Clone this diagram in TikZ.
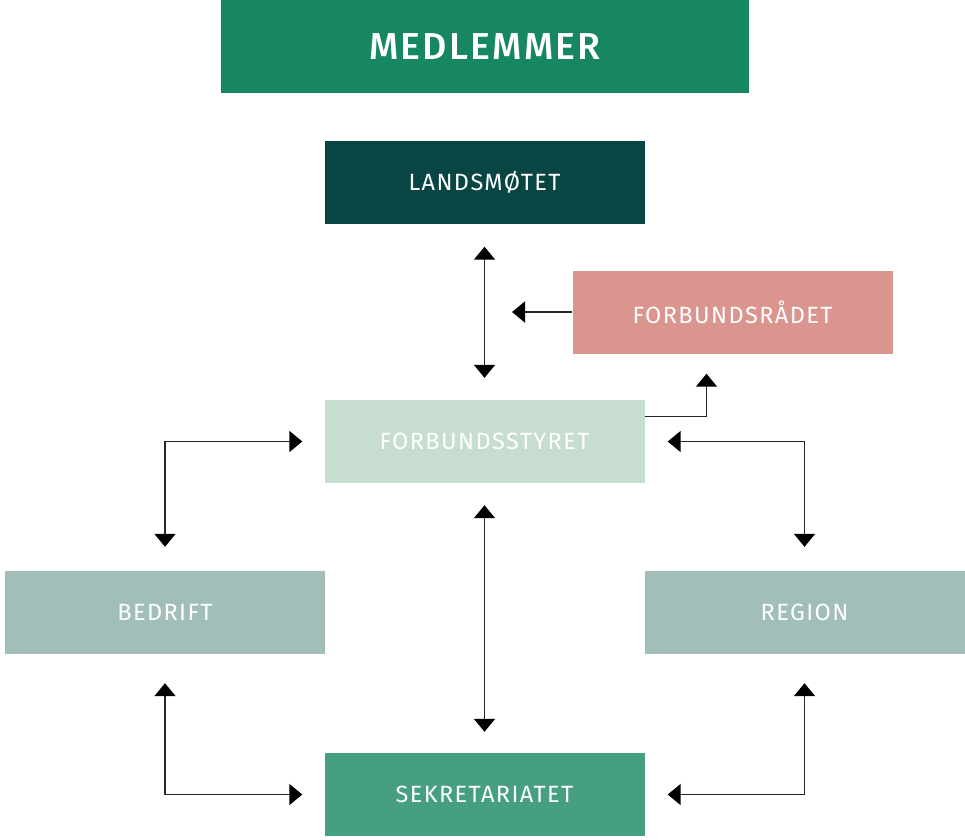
\documentclass[tikz,border=0pt]{standalone}
\usepackage{fontspec}
\setmainfont{Fira Sans}
\newfontfamily\boxfont[LetterSpace=6]{Fira Sans}
\newfontfamily\bigfont[LetterSpace=6]{Fira Sans Medium}
\usetikzlibrary{arrows.meta}
\definecolor{cMed}{HTML}{168762}
\definecolor{cLand}{HTML}{094543}
\definecolor{cRaad}{HTML}{DA958E}
\definecolor{cStyr}{HTML}{C6DDCF}
\definecolor{cBed}{HTML}{A2BEB8}
\definecolor{cSek}{HTML}{459F80}
\begin{document}
\begin{tikzpicture}[x=1pt,y=-1pt,
  box/.style={rectangle, inner sep=0pt, minimum width=320pt, minimum height=83pt,
    text=white, font=\boxfont\fontsize{23.5}{26}\selectfont},
  conn/.style={draw=black!85, line width=1.8pt,
    {Triangle[width=21pt,length=13pt,black]}-{Triangle[width=21pt,length=13pt,black]}},
  oneway/.style={draw=black!85, line width=1.8pt, -{Triangle[width=21pt,length=13pt,black]}}]
\useasboundingbox (0,0) rectangle (965,839);
\node[box, fill=cMed, minimum width=528pt, minimum height=93pt,
  font=\bigfont\fontsize{37.5}{42}\selectfont] (med) at (485,46.5) {MEDLEMMER};
\node[box, fill=cLand] (land) at (484.5,182) {LANDSMØTET};
\node[box, fill=cRaad] (raad) at (732.5,312) {FORBUNDSRÅDET};
\node[box, fill=cStyr] (styr) at (484.5,441.5) {FORBUNDSSTYRET};
\node[box, fill=cBed] (bed) at (165,612.5) {BEDRIFT};
\node[box, fill=cBed] (reg) at (804.5,612.5) {REGION};
\node[box, fill=cSek] (sek) at (484.5,794.5) {SEKRETARIATET};
\coordinate (rtip) at (512,312);
% connectors
\draw[conn] ([yshift=-23pt]land.south) -- ([yshift=22pt]styr.north);
\draw[oneway] (raad.west) -- (rtip);
\draw[oneway] ([yshift=25pt]styr.east) -| ([xshift=-26pt,yshift=-20pt]raad.south);
\draw[conn] ([xshift=-22pt]styr.west) -| ([yshift=24pt]bed.north);
\draw[conn] ([xshift=23pt]styr.east) -| ([yshift=24pt]reg.north);
\draw[conn] ([yshift=-22pt]styr.south) -- ([yshift=21pt]sek.north);
\draw[conn] ([yshift=-29pt]bed.south) |- ([xshift=-22pt]sek.west);
\draw[conn] ([yshift=-29pt]reg.south) |- ([xshift=23pt]sek.east);
\end{tikzpicture}
\end{document}
